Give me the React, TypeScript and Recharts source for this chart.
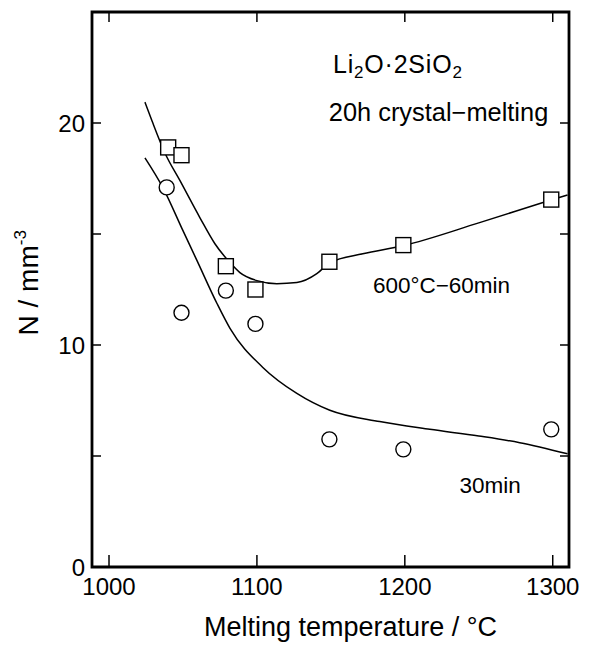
import React from 'react';
import { ComposedChart, Line, Scatter, XAxis, YAxis, ReferenceDot, ReferenceArea } from 'recharts';

// Measured points: 600°C-60min (squares)
const sqTemps = [1040, 1049, 1079, 1099, 1149, 1199, 1299];
const sqN = [18.9, 18.55, 13.55, 12.5, 13.75, 14.5, 16.55];
// Measured points: 30min (circles)
const ciTemps = [1039, 1049, 1079, 1099, 1149, 1199, 1299];
const ciN = [17.1, 11.45, 12.45, 10.95, 5.75, 5.3, 6.2];

// Fitted curve for 600°C-60min
const fit60Temps = [1024.3, 1029.1, 1037.8, 1048, 1061.5, 1071.6, 1081.8, 1088.5, 1100, 1113.5, 1127, 1140.5, 1149.3, 1171.6, 1198.6, 1250, 1299.3, 1310];
const fit60N = [20.94, 20.09, 18.65, 17.4, 15.73, 14.56, 13.71, 13.26, 12.9, 12.76, 12.81, 13.21, 13.71, 14.11, 14.47, 15.5, 16.54, 16.76];
// Fitted curve for 30min
const fit30Temps = [1024.3, 1036.5, 1050, 1059.5, 1073, 1081.8, 1104, 1127, 1149.3, 1183, 1216.9, 1250, 1277.7, 1310];
const fit30N = [18.43, 17.08, 15.15, 13.8, 11.87, 10.75, 8.99, 7.82, 7.06, 6.55, 6.2, 5.9, 5.6, 5.1];

const xDomain = [988.5, 1311];
const yDomain = [0, 25];
const xTicks = [1000, 1100, 1200, 1300];
const yTicks = [0, 5, 10, 15, 20, 25];
const yLabeled = [0, 10, 20];

const zip = (ts: number[], ns: number[]) => ts.map((t, i) => ({ t, n: ns[i] }));
const squares = zip(sqTemps, sqN);
const circles = zip(ciTemps, ciN);
const fit60 = zip(fit60Temps, fit60N);
const fit30 = zip(fit30Temps, fit30N);

const FONT = "'Liberation Sans', Arial, Helvetica, sans-serif";
const BLACK = '#000';

const BottomTick = (props: any) => {
  const { x, y, payload } = props;
  return (
    <g>
      <line x1={x} y1={y} x2={x} y2={y - 12} stroke={BLACK} strokeWidth={1.5} />
      <text x={x} y={y + 28} textAnchor="middle" fontSize={24} fontFamily={FONT} fill={BLACK}>
        {payload.value}
      </text>
    </g>
  );
};
const TopTick = (props: any) => {
  const { x, y } = props;
  return <line x1={x} y1={y} x2={x} y2={y + 10} stroke={BLACK} strokeWidth={1.5} />;
};
const LeftTick = (props: any) => {
  const { x, y, payload } = props;
  return (
    <g>
      <line x1={x} y1={y} x2={x + 9} y2={y} stroke={BLACK} strokeWidth={1.5} />
      {yLabeled.includes(payload.value) ? (
        <text x={x - 7} y={y} dy="0.36em" textAnchor="end" fontSize={24} fontFamily={FONT} fill={BLACK}>
          {payload.value}
        </text>
      ) : null}
    </g>
  );
};
const RightTick = (props: any) => {
  const { x, y } = props;
  return <line x1={x} y1={y} x2={x - 9} y2={y} stroke={BLACK} strokeWidth={1.5} />;
};

const SquareShape = (p: any) => (
  <rect x={p.cx - 7.5} y={p.cy - 7.5} width={15} height={15} fill="#fff" stroke={BLACK} strokeWidth={1.4} />
);
const CircleShape = (p: any) => (
  <circle cx={p.cx} cy={p.cy} r={7.5} fill="#fff" stroke={BLACK} strokeWidth={1.4} />
);

const YTitle = (props: any) => {
  const vb = props.viewBox;
  const x = vb.x + 38;
  const y = vb.y + vb.height / 2 + 46;
  return (
    <text x={x} y={y} transform={`rotate(-90 ${x} ${y})`} fontSize={28} fontFamily={FONT} fill={BLACK}>
      N / mm
      <tspan fontSize={17} dy={-12}>-3</tspan>
    </text>
  );
};
const XTitle = (props: any) => {
  const vb = props.viewBox;
  return (
    <text x={vb.x + vb.width / 2 + 20} y={vb.y + 69} textAnchor="middle" fontSize={27} fontFamily={FONT} fill={BLACK}>
      Melting temperature / °C
    </text>
  );
};

const Note = (text: React.ReactNode, size: number, spacing = 0) => (props: any) => {
  const vb = props.viewBox;
  return (
    <text x={vb.x} y={vb.y} fontSize={size} fontFamily={FONT} fill={BLACK} letterSpacing={spacing}>
      {text}
    </text>
  );
};

const formula = (
  <>
    Li<tspan fontSize={17} dy={5}>2</tspan>
    <tspan dy={-5}>O·2SiO</tspan>
    <tspan fontSize={17} dy={5}>2</tspan>
  </>
);

export default function App() {
  return (
    <div style={{ position: 'absolute', left: 0, top: 0, background: '#fff' }}>
      <ComposedChart width={591} height={646} margin={{ top: 11, right: 21, bottom: 0, left: 0 }}>
        <XAxis
          xAxisId="b"
          dataKey="t"
          type="number"
          domain={xDomain}
          allowDataOverflow
          ticks={xTicks}
          interval={0}
          tickSize={0}
          tickMargin={0}
          tick={<BottomTick />}
          height={79}
          axisLine={false}
          label={<XTitle />}
        />
        <XAxis
          xAxisId="t"
          orientation="top"
          dataKey="t"
          type="number"
          domain={xDomain}
          allowDataOverflow
          ticks={xTicks}
          interval={0}
          tickSize={0}
          tickMargin={0}
          tick={<TopTick />}
          height={1}
          axisLine={false}
        />
        <YAxis
          yAxisId="l"
          dataKey="n"
          type="number"
          domain={yDomain}
          allowDataOverflow
          ticks={yTicks}
          interval={0}
          tickSize={0}
          tickMargin={0}
          tick={<LeftTick />}
          width={92}
          axisLine={false}
          label={<YTitle />}
        />
        <YAxis
          yAxisId="r"
          orientation="right"
          dataKey="n"
          type="number"
          domain={yDomain}
          allowDataOverflow
          ticks={yTicks}
          interval={0}
          tickSize={0}
          tickMargin={0}
          tick={<RightTick />}
          width={1}
          axisLine={false}
        />
        <ReferenceArea
          xAxisId="b"
          yAxisId="l"
          x1={xDomain[0]}
          x2={xDomain[1]}
          y1={yDomain[0]}
          y2={yDomain[1]}
          fill="none"
          fillOpacity={0}
          stroke={BLACK}
          strokeWidth={2.8}
          ifOverflow="visible"
        />
        <Line xAxisId="b" yAxisId="l" data={fit60} dataKey="n" type="monotone" stroke={BLACK} strokeWidth={1.5} dot={false} isAnimationActive={false} />
        <Line xAxisId="b" yAxisId="l" data={fit30} dataKey="n" type="monotone" stroke={BLACK} strokeWidth={1.5} dot={false} isAnimationActive={false} />
        <Line xAxisId="t" yAxisId="r" data={fit30} dataKey="n" stroke="none" dot={false} isAnimationActive={false} />
        <Scatter xAxisId="b" yAxisId="l" data={squares} dataKey="n" shape={<SquareShape />} isAnimationActive={false} />
        <Scatter xAxisId="b" yAxisId="l" data={circles} dataKey="n" shape={<CircleShape />} isAnimationActive={false} />
        <ReferenceDot xAxisId="b" yAxisId="l" x={1151.4} y={22.25} r={0} stroke="none" ifOverflow="visible" label={Note(formula, 25, 0.8)} />
        <ReferenceDot xAxisId="b" yAxisId="l" x={1148.6} y={20.09} r={0} stroke="none" ifOverflow="visible" label={Note('20h crystal\u2212melting', 25.4)} />
        <ReferenceDot xAxisId="b" yAxisId="l" x={1178.4} y={12.36} r={0} stroke="none" ifOverflow="visible" label={Note('600\u00b0C\u221260min', 22.5)} />
        <ReferenceDot xAxisId="b" yAxisId="l" x={1237} y={3.33} r={0} stroke="none" ifOverflow="visible" label={Note('30min', 22.5)} />
      </ComposedChart>
    </div>
  );
}
